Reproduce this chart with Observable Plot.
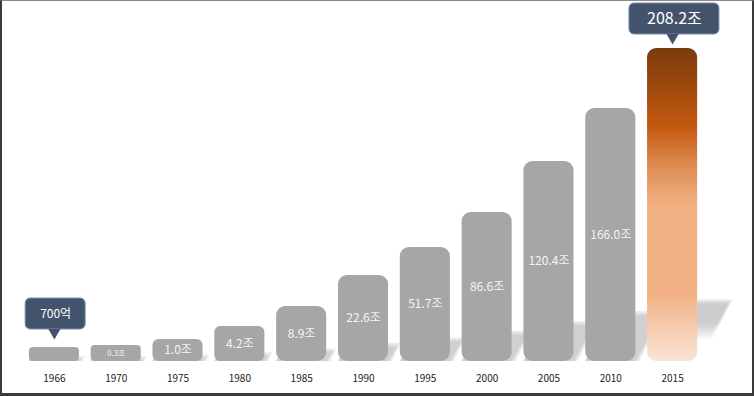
<!DOCTYPE html>
<html><head><meta charset="utf-8">
<script src="https://cdn.jsdelivr.net/npm/d3@7"></script>
<script src="https://cdn.jsdelivr.net/npm/@observablehq/plot@0.6"></script>
<style>
html,body{margin:0;padding:0;background:#fff;}
#wrap{position:relative;width:754px;height:396px;overflow:hidden;}
#wrap svg{position:absolute;left:0;top:0;}
#frame{position:absolute;left:0;top:0;width:754px;height:396px;box-sizing:border-box;border-top:1px solid #8a8a8a;border-left:2px solid #3a3a3a;border-right:2px solid #3a3a3a;border-bottom:3px solid #3a3a3a;pointer-events:none;z-index:2;}
</style></head><body><div id="wrap"><div id="frame"></div></div>
<script>
// ---- data ----
const years = ["1966","1970","1975","1980","1985","1990","1995","2000","2005","2010","2015"];
const valueLabels = ["700억","0.3조","1.0조","4.2조","8.9조","22.6조","51.7조","86.6조","120.4조","166.0조","208.2조"];
// drawn bar heights (the picture is not to scale, heights are read as drawn)
const barHeights = [14,16,22,35,55,86,114,149,200,253,313];
const calloutYears = ["1966","2015"];
const calloutLabels = ["700억","208.2조"];

// ---- styling ----
const calloutStyle = {
  "1966": {half: 0.485, shift: 0.02, gap: 18, fontSize: 12},
  "2015": {half: 0.728, shift: 0.03, gap: 14, fontSize: 16}
};
const barHalf = 0.405;
const step = 61.8;
const shadowLayers = [0, 2, 4];

const rows = years.map((y, i) => ({i, year: y, label: valueLabels[i], h: barHeights[i]}));
const callouts = calloutYears.map((y, k) => {
  const i = years.indexOf(y);
  const s = calloutStyle[y];
  return {i, label: calloutLabels[k], h: barHeights[i], ...s};
});
const shadowArea = shadowLayers.flatMap(e => rows.flatMap(d => {
  const sx = 0.1 * d.h / step, sy = 0.19 * d.h + e - 2, ex = e / step;
  const x0 = d.i - barHalf, x1 = d.i + barHalf + ex;
  const k = `${e}-${d.i}`, year = d.year;
  return [
    {k, year, x: x0, y1: 0, y2: 0},
    {k, year, x: x0 + sx, y1: 0, y2: sy},
    {k, year, x: x1, y1: 0, y2: sy},
    {k, year, x: x1 + sx, y1: sy, y2: sy}
  ];
}));

const gray = "#a6a6a6";
const barOpts = (rx, fill) => ({x1: d => d.i - barHalf, x2: d => d.i + barHalf, y1: 0, y2: "h", fill, rx});
const grayRows = rows.filter(d => d.year !== "2015");

const chart = Plot.plot({
  width: 754, height: 396,
  marginLeft: 23, marginRight: 51, marginTop: 48, marginBottom: 35,
  style: {fontFamily: "'Noto Sans CJK KR','Noto Sans',sans-serif", fontSize: "10px", color: "#222", background: "transparent"},
  x: {type: "linear", domain: [-0.5, 10.5], ticks: d3.range(years.length), tickFormat: i => years[i], tickSize: 0, tickPadding: 13, label: null},
  y: {domain: [0, 313], axis: null},
  marks: [
    Plot.areaY(shadowArea.filter(d => d.year !== "2015"), {x: "x", y1: "y1", y2: "y2", z: "k", fill: "#9e9e9e", fillOpacity: 0.2}),
    Plot.areaY(shadowArea.filter(d => d.year === "2015"), {x: "x", y1: "y1", y2: "y2", z: "k", fill: "url(#shadowFade)", fillOpacity: 0.22}),
    Plot.rect(grayRows.filter(d => d.h < 20), barOpts(4, gray)),
    Plot.rect(grayRows.filter(d => d.h >= 20 && d.h < 40), barOpts(6, gray)),
    Plot.rect(grayRows.filter(d => d.h >= 40), barOpts(9, gray)),
    Plot.rect(rows.filter(d => d.year === "2015"), barOpts(9, "url(#grad2015)")),
    Plot.text(rows.filter(d => d.i > 0 && d.i < 10), {x: "i", y: d => d.h / 2, text: "label", fill: "#f4f4f4", fontSize: d => d.h < 20 ? 8 : 12}),
    Plot.rect(callouts, {x1: d => d.i + d.shift - d.half, x2: d => d.i + d.shift + d.half, y1: d => d.h + d.gap, y2: d => d.h + d.gap + 31, fill: "#43536c", stroke: "#7d8fa8", strokeWidth: 1, rx: 5}),
    Plot.dot(callouts, {x: "i", y: d => d.h + d.gap - 3, symbol: "triangle", rotate: 180, r: 4.5, fill: "#43536c", stroke: "none"}),
    Plot.text(callouts, {x: d => d.i + d.shift, y: d => d.h + d.gap + 15.5, text: "label", fill: "#ffffff", fontSize: d => d.fontSize})
  ]
});

const svg = d3.select(chart);
const defs = svg.insert("defs", ":first-child");
const g = defs.append("linearGradient").attr("id", "grad2015").attr("x1", 0).attr("y1", 0).attr("x2", 0).attr("y2", 1);
[[0, "#7b3a0d"], [0.25, "#c4580f"], [0.37, "#dc8a50"], [0.5, "#f1b083"], [0.78, "#f1b083"], [1, "#fbe4d6"]]
  .forEach(([o, c]) => g.append("stop").attr("offset", o).attr("stop-color", c));
const sg = defs.append("linearGradient").attr("id", "shadowFade").attr("x1", 0).attr("y1", 0).attr("x2", 0).attr("y2", 1);
[[0, 1], [0.35, 1], [0.65, 0], [1, 0]]
  .forEach(([o, a]) => sg.append("stop").attr("offset", o).attr("stop-color", "#9e9e9e").attr("stop-opacity", a));
document.getElementById("wrap").appendChild(chart);
</script></body></html>
